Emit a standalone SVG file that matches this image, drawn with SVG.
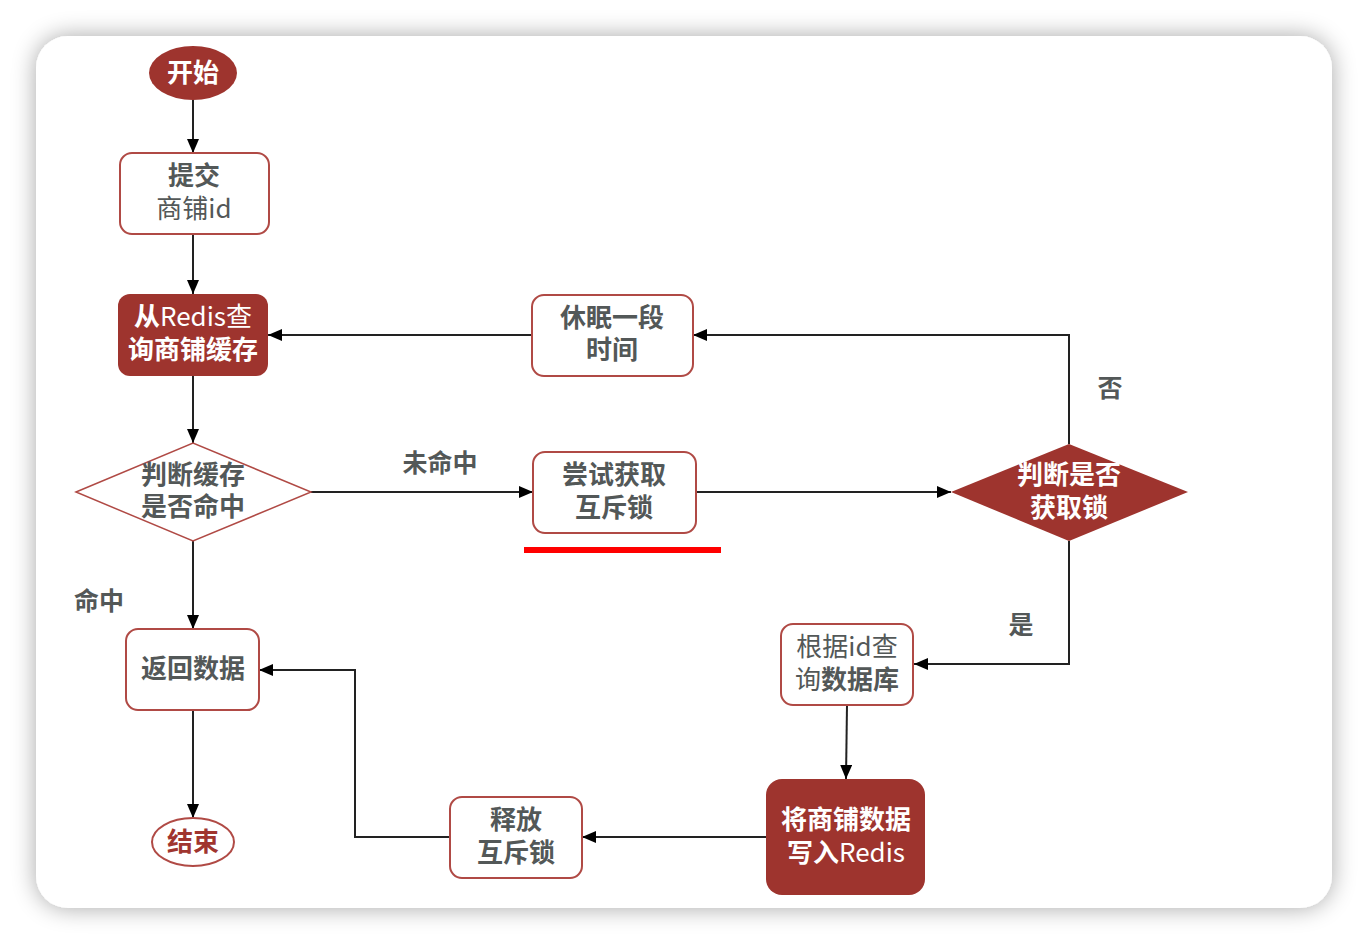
<svg xmlns="http://www.w3.org/2000/svg" width="1368" height="944" viewBox="0 0 1368 944">
<defs>
<filter id="sh" x="-10%" y="-10%" width="120%" height="120%">
<feGaussianBlur in="SourceAlpha" stdDeviation="12"/>
<feComponentTransfer><feFuncA type="linear" slope="0.35"/></feComponentTransfer>
<feMerge><feMergeNode/><feMergeNode in="SourceGraphic"/></feMerge>
</filter>
<marker id="ah" viewBox="0 0 14 12" refX="14" refY="6" markerWidth="14" markerHeight="12" markerUnits="userSpaceOnUse" orient="auto">
<path d="M0,0 L14,6 L0,12 Z" fill="#000"/>
</marker>
<style>
.t{font-family:"Noto Sans CJK SC","Liberation Sans",sans-serif;font-size:26px;font-weight:bold;fill:#535858;text-anchor:middle}
.w{fill:#ffffff}
.n{font-weight:normal}
.box{fill:#fff;stroke:#b04a45;stroke-width:2}
.fb{fill:#9e342e}
.c{fill:none;stroke:#222;stroke-width:2}
.lbl{font-family:"Noto Sans CJK SC","Liberation Sans",sans-serif;font-size:25px;font-weight:bold;fill:#535858;text-anchor:middle}
</style>
</defs>
<rect width="1368" height="944" fill="#fff"/>
<rect x="36" y="36" width="1296" height="872" rx="32" fill="#fff" filter="url(#sh)"/>

<g id="connectors">
<line class="c" x1="193" y1="100" x2="193" y2="153" marker-end="url(#ah)"/>
<line class="c" x1="193" y1="234" x2="193" y2="294" marker-end="url(#ah)"/>
<line class="c" x1="193" y1="376" x2="193" y2="443" marker-end="url(#ah)"/>
<line class="c" x1="311" y1="492" x2="533" y2="492" marker-end="url(#ah)"/>
<line class="c" x1="696" y1="492" x2="951" y2="492" marker-end="url(#ah)"/>
<polyline class="c" points="1069,444 1069,335 693,335" marker-end="url(#ah)"/>
<line class="c" x1="532" y1="335" x2="268" y2="335" marker-end="url(#ah)"/>
<polyline class="c" points="1069,541 1069,664 914,664" marker-end="url(#ah)"/>
<line class="c" x1="847" y1="705" x2="846" y2="779" marker-end="url(#ah)"/>
<line class="c" x1="766" y1="837" x2="582" y2="837" marker-end="url(#ah)"/>
<polyline class="c" points="450,837 355,837 355,670 259,670" marker-end="url(#ah)"/>
<line class="c" x1="193" y1="541" x2="193" y2="629" marker-end="url(#ah)"/>
<line class="c" x1="193" y1="710" x2="193" y2="818" marker-end="url(#ah)"/>
</g>

<g id="labels">
<text class="lbl" x="440" y="472">未命中</text>
<text class="lbl" x="1110" y="397">否</text>
<text class="lbl" x="1021" y="634">是</text>
<text class="lbl" x="99" y="610">命中</text>
</g>

<g id="start">
<ellipse cx="193" cy="73" rx="44" ry="27" class="fb"/>
<text class="t w" x="193" y="82">开始</text>
</g>

<g id="submit">
<rect class="box" x="120" y="153" width="149" height="81" rx="12"/>
<text class="t" x="194" y="185">提交</text>
<text class="t n" x="194" y="218">商铺id</text>
</g>

<g id="redis-query">
<rect class="fb" x="118" y="294" width="150" height="82" rx="12"/>
<text class="t w" x="193" y="326">从<tspan class="n">Redis查</tspan></text>
<text class="t w" x="193" y="359">询商铺缓存</text>
</g>

<g id="check-cache">
<polygon points="76,492 193,443 311,492 193,541" fill="#fff" stroke="#b04a45" stroke-width="1.5"/>
<text class="t" x="193" y="484">判断缓存</text>
<text class="t" x="193" y="516">是否命中</text>
</g>

<g id="try-lock">
<rect class="box" x="533" y="452" width="163" height="81" rx="12"/>
<text class="t" x="614" y="484">尝试获取</text>
<text class="t" x="614" y="517">互斥锁</text>
</g>
<rect x="524" y="547" width="197" height="6" fill="#ff0000"/>

<g id="sleep">
<rect class="box" x="532" y="295" width="161" height="81" rx="12"/>
<text class="t" x="612" y="327">休眠一段</text>
<text class="t" x="612" y="359">时间</text>
</g>

<g id="check-lock">
<polygon points="951,492 1069,444 1188,492 1069,541" class="fb"/>
<text class="t w" x="1069" y="484">判断是否</text>
<text class="t w" x="1069" y="517">获取锁</text>
</g>

<g id="query-db">
<rect class="box" x="781" y="624" width="132" height="81" rx="12"/>
<text class="t n" x="847" y="656">根据id查</text>
<text class="t" x="847" y="689"><tspan class="n">询</tspan>数据库</text>
</g>

<g id="write-redis">
<rect class="fb" x="766" y="779" width="159" height="116" rx="16"/>
<text class="t w" x="846" y="829">将商铺数据</text>
<text class="t w" x="846" y="862">写入<tspan class="n">Redis</tspan></text>
</g>

<g id="release">
<rect class="box" x="450" y="797" width="132" height="81" rx="12"/>
<text class="t" x="516" y="829">释放</text>
<text class="t" x="516" y="862">互斥锁</text>
</g>

<g id="return">
<rect class="box" x="126" y="629" width="133" height="81" rx="12"/>
<text class="t" x="193" y="678">返回数据</text>
</g>

<g id="end">
<ellipse cx="193" cy="842" rx="41" ry="24" fill="#fff" stroke="#b04a45" stroke-width="2"/>
<text class="t" x="193" y="851" style="fill:#a0352f">结束</text>
</g>
</svg>
